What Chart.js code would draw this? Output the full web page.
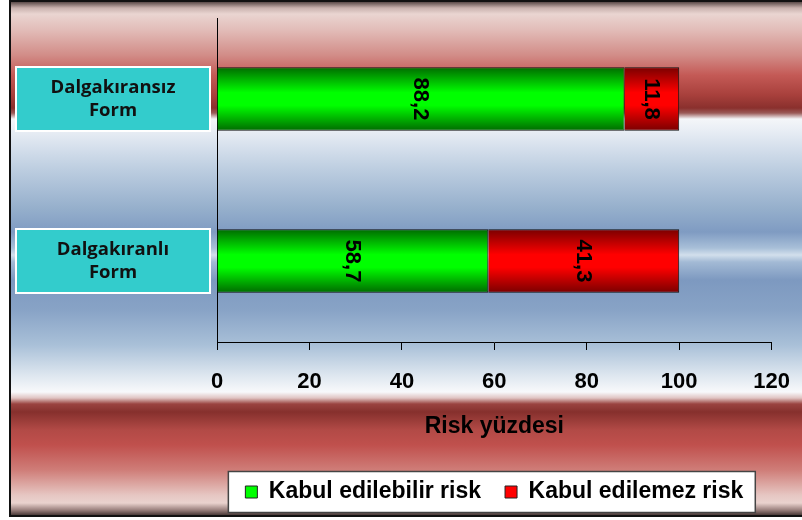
<!DOCTYPE html>
<html>
<head>
<meta charset="utf-8">
<title>Risk yüzdesi</title>
<script src="https://cdn.jsdelivr.net/npm/chart.js@4.4.1/dist/chart.umd.min.js"></script>
<style>
  html, body { margin: 0; padding: 0; background: #fff; }
  #wrap { width: 802px; height: 520px; }
</style>
</head>
<body>
<div id="wrap"><canvas id="riskChart"></canvas></div>
<script>
// data
const categories = [['Dalgakıransız', 'Form'], ['Dalgakıranlı', 'Form']];
const seriesNames = ['Kabul edilebilir risk', 'Kabul edilemez risk'];
const acceptable = [88.2, 58.7];
const unacceptable = [11.8, 41.3];
const xTicks = [0, 20, 40, 60, 80, 100, 120];

const ARIAL = "'Liberation Sans', Arial, sans-serif";
const catPct = 0.392;

// vertical shading on each bar: dark edges, bright middle
function barFill(dark, bright) {
    return function(ctx) {
        const chart = ctx.chart;
        const y = chart.scales.y;
        if (!chart.chartArea || !y || ctx.dataIndex === undefined) return bright;
        const c = y.getPixelForValue(ctx.dataIndex);
        const half = Math.abs(y.getPixelForValue(1) - y.getPixelForValue(0)) * catPct / 2;
        const g = chart.ctx.createLinearGradient(0, c - half, 0, c + half);
        g.addColorStop(0, dark);
        g.addColorStop(0.4, bright);
        g.addColorStop(0.6, bright);
        g.addColorStop(1, dark);
        return g;
    };
}

const legendColors = ['#00ff00', '#ff0000'];

// banded background + frame, and the white box behind the legend
const backdrop = {
    id: 'backdrop',
    beforeDraw(chart) {
        const ctx = chart.ctx;
        ctx.save();
        ctx.fillStyle = '#fff';
        ctx.fillRect(0, 0, chart.width, chart.height);
        const g = ctx.createLinearGradient(0, 0, 0, 520);
        [[2, '#5a4a48'], [8, '#c9b2ae'], [14, '#ead5d1'], [30, '#e2bcb8'], [55, '#d28d88'],
         [75, '#c45a56'], [95, '#a8403c'], [108, '#8a302d'], [113, '#9a5a58'], [119, '#f4f6f9'],
         [130, '#e9eef5'], [170, '#bccde0'], [210, '#94aecb'], [232, '#7f9bc2'], [248, '#a8bfd8'],
         [255, '#d2dfec'], [262, '#a3bad5'], [280, '#7d99c0'], [310, '#88a3c6'], [345, '#a9c0d8'],
         [375, '#dde6ef'], [392, '#f8f9fb'], [398, '#e0c4c2'], [404, '#9a4340'], [412, '#86302d'],
         [430, '#b24a46'], [445, '#c0504d'], [470, '#cf7d78'], [495, '#e6c6c2'], [503, '#ead2ce'],
         [510, '#9a807d'], [515, '#4a3a38']].forEach(function(s) {
            g.addColorStop(s[0] / 520, s[1]);
        });
        ctx.fillStyle = g;
        ctx.fillRect(10, 1, chart.width - 10, 515);
        ctx.strokeStyle = '#111';
        ctx.lineWidth = 2;
        ctx.strokeRect(10, 1, chart.width + 10, 515);

        const boxes = chart.legend && chart.legend.legendHitBoxes;
        if (boxes && boxes.length) {
            const left = Math.min.apply(null, boxes.map(b => b.left)) - 17;
            const right = Math.max.apply(null, boxes.map(b => b.left + b.width)) + 12;
            const mid = boxes[0].top + boxes[0].height / 2;
            ctx.fillStyle = '#fff';
            ctx.fillRect(left, mid - 20.5, right - left, 41);
            ctx.strokeStyle = '#444';
            ctx.lineWidth = 1.5;
            ctx.strokeRect(left, mid - 20.5, right - left, 41);
        }
        ctx.restore();
    }
};

// cyan boxes holding the category names
const categoryBoxes = {
    id: 'categoryBoxes',
    afterDraw(chart) {
        const ctx = chart.ctx;
        const y = chart.scales.y;
        ctx.save();
        chart.data.labels.forEach(function(lines, i) {
            const c = y.getPixelForValue(i);
            ctx.fillStyle = '#33cccc';
            ctx.fillRect(16, c - 32, 194, 64);
            ctx.strokeStyle = '#fff';
            ctx.lineWidth = 2;
            ctx.strokeRect(16, c - 32, 194, 64);
            ctx.fillStyle = '#111';
            ctx.font = "bold 18.5px 'Open Sans', 'Noto Sans', sans-serif";
            ctx.textAlign = 'center';
            ctx.textBaseline = 'middle';
            lines.forEach(function(t, k) {
                ctx.fillText(t, 113, c + (k - (lines.length - 1) / 2) * 23);
            });
        });
        ctx.restore();
    }
};

// rotated value in the middle of every segment
const valueLabels = {
    id: 'valueLabels',
    afterDatasetsDraw(chart) {
        const ctx = chart.ctx;
        ctx.save();
        ctx.font = 'bold 22px ' + ARIAL;
        ctx.fillStyle = '#000';
        ctx.textAlign = 'center';
        ctx.textBaseline = 'middle';
        chart.data.datasets.forEach(function(ds, di) {
            chart.getDatasetMeta(di).data.forEach(function(bar, i) {
                const cx = (bar.x + bar.base) / 2;
                ctx.save();
                ctx.translate(cx, bar.y);
                ctx.rotate(Math.PI / 2);
                ctx.fillText(ds.data[i].toFixed(1).replace('.', ','), 0, 1);
                ctx.restore();
            });
        });
        ctx.restore();
    }
};

new Chart(document.getElementById('riskChart'), {
    type: 'bar',
    data: {
        labels: categories,
        datasets: [{
            label: seriesNames[0],
            data: acceptable,
            backgroundColor: barFill('#006b00', '#00ff00'),
            borderColor: '#111',
            borderWidth: 1
        }, {
            label: seriesNames[1],
            data: unacceptable,
            backgroundColor: barFill('#7a0000', '#ff0000'),
            borderColor: '#111',
            borderWidth: 1
        }]
    },
    options: {
        indexAxis: 'y',
        responsive: true,
        maintainAspectRatio: false,
        animation: false,
        layout: { padding: { left: 0, right: 20, top: 18, bottom: 6.5 } },
        datasets: { bar: { categoryPercentage: catPct, barPercentage: 1 } },
        scales: {
            x: {
                stacked: true,
                min: xTicks[0],
                max: xTicks[xTicks.length - 1],
                ticks: {
                    stepSize: xTicks[1] - xTicks[0],
                    padding: 12,
                    color: '#000',
                    font: { family: ARIAL, size: 22, weight: 'bold', lineHeight: 40 / 22 }
                },
                grid: { drawOnChartArea: false, tickLength: 8, color: '#000' },
                border: { color: '#000', width: 1 },
                title: {
                    display: true,
                    text: 'Risk yüzdesi',
                    color: '#000',
                    font: { family: ARIAL, size: 23, weight: 'bold', lineHeight: 1 },
                    padding: { top: 1, bottom: 18.5 }
                }
            },
            y: {
                stacked: true,
                ticks: { display: false },
                grid: { display: false },
                border: { color: '#000', width: 1 },
                afterFit(scale) { scale.width = 217; }
            }
        },
        plugins: {
            tooltip: { enabled: false },
            legend: {
                position: 'bottom',
                fullSize: false,
                labels: {
                    boxWidth: 12,
                    boxHeight: 12,
                    padding: 24,
                    color: '#000',
                    font: { family: ARIAL, size: 23, weight: 'bold' },
                    generateLabels(chart) {
                        const items = Chart.defaults.plugins.legend.labels.generateLabels(chart);
                        items.forEach(function(it, i) {
                            it.fillStyle = legendColors[i];
                            it.strokeStyle = '#222';
                            it.lineWidth = 1;
                        });
                        return items;
                    }
                }
            }
        }
    },
    plugins: [backdrop, categoryBoxes, valueLabels]
});
</script>
</body>
</html>
